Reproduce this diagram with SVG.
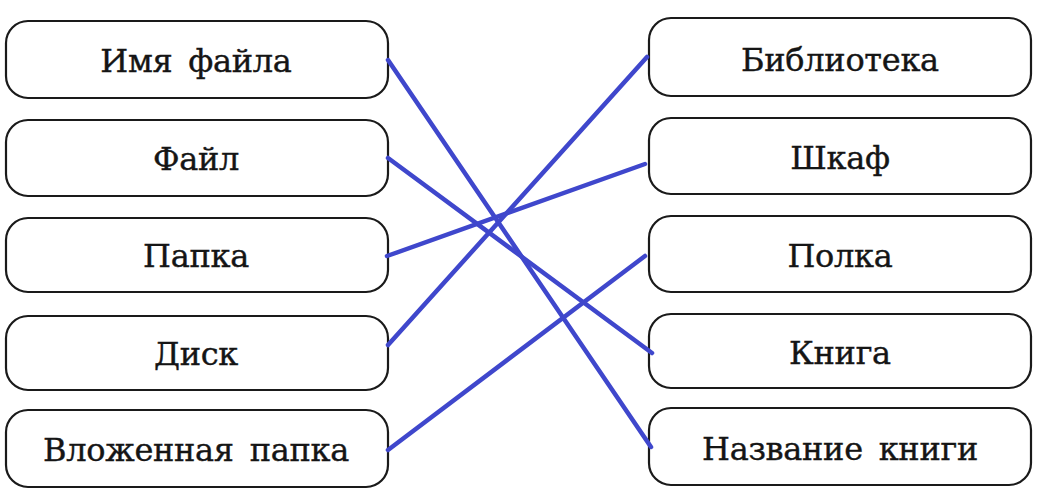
<svg xmlns="http://www.w3.org/2000/svg" width="1052" height="500" viewBox="0 0 1052 500">
<style>
.box{fill:#fff;stroke:#1a1a1a;stroke-width:2.2}
.t{font-family:"DejaVu Serif","Liberation Serif",serif;font-size:32px;fill:#151515;stroke:#151515;stroke-width:0.4;text-anchor:middle;word-spacing:6px;letter-spacing:-0.3px}
.c{stroke:#3f47cc;stroke-width:4.5;stroke-linecap:round;fill:none}
</style>
<rect width="1052" height="500" fill="#fff"/>
<g id="l1"><rect class="box" x="6" y="21" width="382" height="77" rx="22"/><text class="t" x="196" y="72">Имя файла</text></g>
<g id="l2"><rect class="box" x="6" y="120" width="382" height="76" rx="22"/><text class="t" x="196" y="170">Файл</text></g>
<g id="l3"><rect class="box" x="6" y="218" width="382" height="74" rx="22"/><text class="t" x="196" y="267">Папка</text></g>
<g id="l4"><rect class="box" x="6" y="316" width="382" height="74" rx="22"/><text class="t" x="196" y="365">Диск</text></g>
<g id="l5"><rect class="box" x="6" y="410" width="382" height="77" rx="22"/><text class="t" x="196" y="461">Вложенная папка</text></g>
<g id="r1"><rect class="box" x="649" y="18" width="382" height="78" rx="22"/><text class="t" x="840" y="71">Библиотека</text></g>
<g id="r2"><rect class="box" x="649" y="118" width="382" height="76" rx="22"/><text class="t" x="840" y="169">Шкаф</text></g>
<g id="r3"><rect class="box" x="649" y="216" width="382" height="76" rx="22"/><text class="t" x="840" y="267">Полка</text></g>
<g id="r4"><rect class="box" x="649" y="314" width="382" height="74" rx="22"/><text class="t" x="840" y="364">Книга</text></g>
<g id="r5"><rect class="box" x="649" y="408" width="382" height="77" rx="22"/><text class="t" x="840" y="460">Название книги</text></g>
<g id="connectors">
<line class="c" x1="388" y1="60" x2="651" y2="447"/>
<line class="c" x1="388" y1="158" x2="652" y2="353"/>
<line class="c" x1="387" y1="256" x2="645" y2="164"/>
<line class="c" x1="388" y1="345" x2="647" y2="57"/>
<line class="c" x1="388" y1="450" x2="645" y2="256"/>
</g>
</svg>
